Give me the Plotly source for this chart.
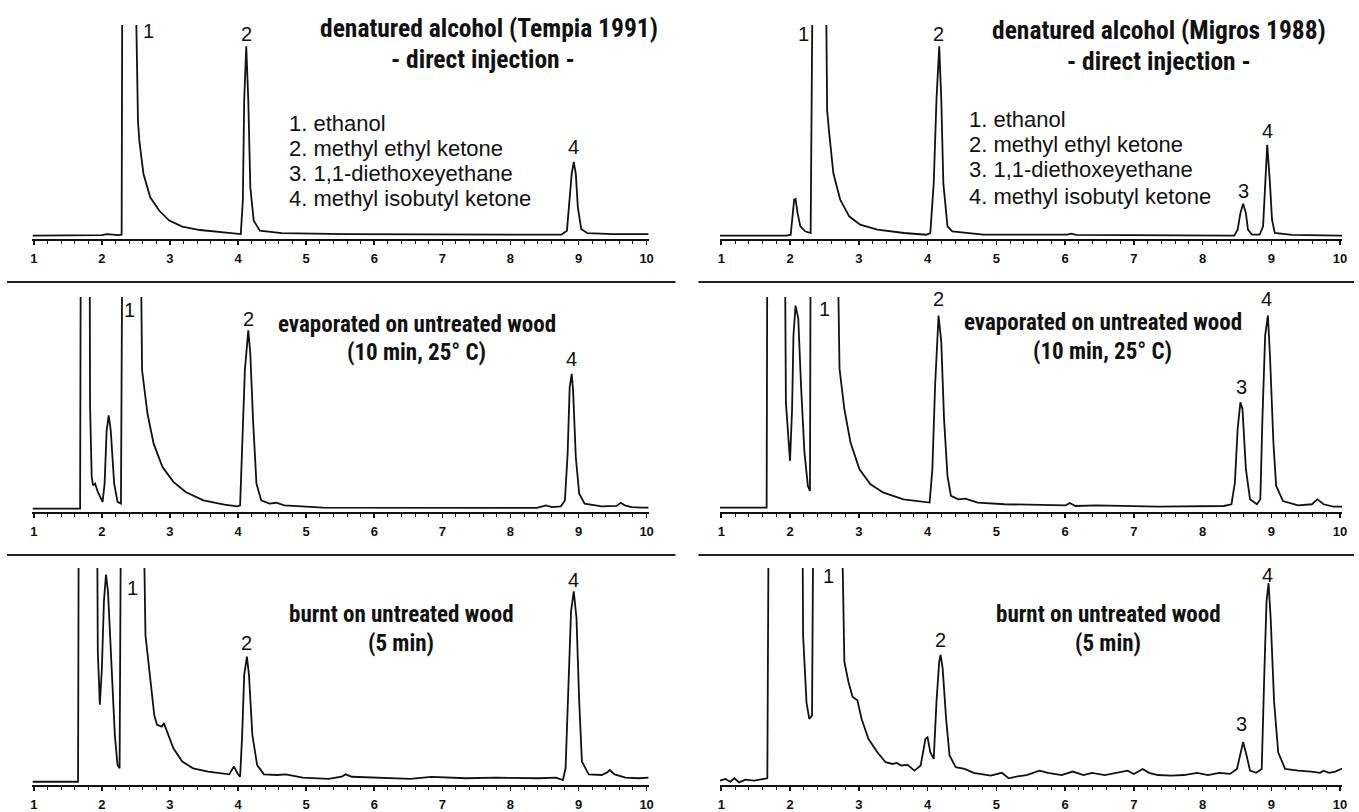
import plotly.graph_objects as go

# ---------------- data (retention time in min, detector signal in % of panel height) -------------
tick_vals = [1, 2, 3, 4, 5, 6, 7, 8, 9, 10]
tick_text = ["1", "2", "3", "4", "5", "6", "7", "8", "9", "10"]

# top-left: Tempia 1991, direct injection
tl_t = [0.98, 1.5, 1.9, 2.0, 2.07, 2.15, 2.25, 2.29, 2.30, 2.49, 2.53, 2.55, 2.61, 2.71, 2.84, 2.99, 3.18,
        3.44, 3.82, 4.0, 4.04, 4.07, 4.09, 4.12, 4.15, 4.18, 4.23, 4.32, 4.64, 5.59, 6.85, 8.12, 8.75, 8.83,
        8.87, 8.90, 8.93, 8.96, 8.99, 9.04, 9.13, 9.51, 10.0, 10.03]
tl_v = [1.6, 1.6, 1.5, 1.8, 2.3, 2.0, 1.8, 2.0, 130, 130, 55, 46, 30.5, 19.5, 13.3, 8.6, 5.8,
        4.2, 3.1, 2.7, 2.3, 18, 65, 90, 65, 24, 8.6, 3.9, 2.7, 2.3, 2.2, 2.0, 2.0, 3.9,
        18, 30.5, 36, 30.5, 14.8, 4.7, 2.7, 2.3, 2.3, 2.3]

# top-right: Migros 1988, direct injection
tr_t = [0.98, 1.5, 1.95, 2.01, 2.03, 2.06, 2.08, 2.11, 2.15, 2.22, 2.30, 2.33, 2.52, 2.54, 2.57, 2.63, 2.73,
        2.86, 3.02, 3.27, 3.66, 3.98, 4.04, 4.09, 4.13, 4.17, 4.20, 4.23, 4.29, 4.36, 4.81, 6.03, 6.09, 6.16,
        8.46, 8.51, 8.55, 8.59, 8.63, 8.66, 8.72, 8.83, 8.88, 8.91, 8.94, 8.98, 9.01, 9.05, 9.3, 10.0, 10.03]
tr_v = [1.6, 1.7, 1.6, 2.0, 9, 18.4, 18.7, 12.1, 5.9, 3.6, 2.8, 130, 130, 60, 49.5, 30.8, 18.4,
        10.6, 6.7, 4.4, 2.8, 2.0, 2.8, 26, 65, 90, 65, 26, 5.9, 3.6, 2.0, 2.0, 2.5, 1.9,
        1.6, 4.4, 12.1, 16.5, 12.1, 4.4, 2.0, 2.0, 5.9, 26, 44, 26, 9, 2.8, 1.9, 1.6, 1.6]

# middle-left: Tempia, evaporated on untreated wood
ml_t = [0.98, 1.68, 1.69, 1.82, 1.826, 1.85, 1.87, 1.90, 1.94, 2.01, 2.04, 2.07, 2.10, 2.13, 2.18, 2.23, 2.28,
        2.30, 2.57, 2.59, 2.67, 2.76, 2.89, 3.05, 3.23, 3.49, 3.80, 3.99, 4.03, 4.06, 4.10, 4.15, 4.18, 4.22,
        4.27, 4.34, 4.46, 4.56, 4.68, 5.25, 6.82, 8.39, 8.52, 8.61, 8.74, 8.80, 8.84, 8.87, 8.90, 8.92, 8.96,
        9.01, 9.09, 9.34, 9.56, 9.62, 9.68, 9.78, 9.94, 10.03]
ml_v = [1.55, 1.55, 130, 130, 50, 16.3, 12.4, 13.2, 9.3, 4.7, 13.2, 38, 45, 38, 13.2, 4.7, 3.9,
        130, 130, 66, 45.7, 31.8, 20.9, 14, 9.3, 5.4, 3.4, 2.6, 3.1, 27, 66, 84.5, 73.6, 42.6,
        13.2, 5.4, 3.9, 4.3, 3.1, 2.0, 1.9, 1.9, 3.1, 2.3, 2.6, 5.4, 27, 58, 64.3, 56.6, 25.6,
        8.5, 3.9, 2.6, 2.8, 4.3, 3.1, 2.3, 2.0, 2.0]

# middle-right: Migros, evaporated on untreated wood
mr_t = [0.98, 1.66, 1.67, 1.925, 1.94, 1.98, 2.00, 2.03, 2.05, 2.08, 2.12, 2.16, 2.21, 2.26, 2.29, 2.30, 2.69,
        2.72, 2.79, 2.88, 3.01, 3.17, 3.36, 3.65, 4.00, 4.03, 4.07, 4.11, 4.16, 4.20, 4.24, 4.29, 4.34, 4.45,
        4.55, 4.73, 5.12, 6.01, 6.07, 6.15, 6.46, 7.35, 8.31, 8.42, 8.47, 8.51, 8.55, 8.58, 8.63, 8.69, 8.79,
        8.84, 8.87, 8.91, 8.95, 8.98, 9.03, 9.07, 9.17, 9.39, 9.59, 9.67, 9.76, 9.90, 10.03]
mr_v = [2.0, 2.0, 130, 130, 51, 29.2, 23.8, 47.9, 82, 96, 90, 58.8, 27.7, 12.1, 9.8, 130, 130,
        66.6, 47.9, 32.3, 19.9, 12.9, 9, 5.9, 4.4, 4.4, 19.9, 58.8, 91.4, 79, 43.2, 16.8, 7.5, 5.9,
        6.2, 4.4, 3.6, 3.1, 4.2, 2.8, 3.1, 2.5, 2.8, 3.6, 13.7, 38.6, 51, 47.9, 19.9, 5.9, 3.6,
        5.9, 43.2, 82, 91.4, 72.8, 32.3, 12.1, 5.1, 3.1, 3.6, 5.9, 3.6, 2.5, 2.5]

# bottom-left: Tempia, burnt on untreated wood
bl_t = [0.98, 1.65, 1.66, 1.93, 1.935, 1.94, 1.97, 2.00, 2.03, 2.06, 2.09, 2.14, 2.19, 2.23, 2.26, 2.28, 2.61,
        2.64, 2.71, 2.77, 2.81, 2.88, 2.91, 2.96, 3.05, 3.18, 3.34, 3.56, 3.75, 3.87, 3.94, 3.99, 4.03, 4.06,
        4.09, 4.13, 4.16, 4.21, 4.28, 4.38, 4.57, 4.70, 4.95, 5.33, 5.52, 5.58, 5.67, 6.02, 6.53, 6.84, 7.35,
        7.79, 8.42, 8.67, 8.77, 8.81, 8.85, 8.89, 8.93, 8.97, 9.01, 9.05, 9.15, 9.34, 9.42, 9.46, 9.53, 9.69,
        9.88, 10.03]
bl_v = [1.5, 1.5, 130, 130, 91.5, 61.5, 37, 53.8, 84.6, 97, 89, 53.8, 23, 9.2, 7.7, 130, 130,
        69, 49, 32, 27.7, 26.9, 28.5, 24.6, 16.9, 10.8, 7.7, 6.2, 5.4, 4.9, 8.5, 5.4, 3.8, 23,
        50.8, 59.2, 50.8, 23, 9.2, 4.9, 4.6, 4.9, 3.4, 2.8, 3.8, 4.9, 3.8, 3.4, 2.8, 3.7, 3.1,
        3.4, 3.1, 3.4, 2.3, 7.7, 46, 80, 89.2, 77, 38.5, 10.8, 4.9, 4.6, 5.8, 6.9, 4.9, 3.4,
        3.1, 3.4]

# bottom-right: Migros, burnt on untreated wood
br_t = [0.98, 1.06, 1.13, 1.19, 1.26, 1.35, 1.48, 1.61, 1.67, 1.69, 2.18, 2.19, 2.24, 2.28, 2.32, 2.34, 2.75,
        2.79, 2.85, 2.91, 2.98, 3.04, 3.14, 3.27, 3.39, 3.49, 3.55, 3.62, 3.71, 3.81, 3.90, 3.97, 4.00, 4.04,
        4.09, 4.13, 4.17, 4.19, 4.22, 4.27, 4.32, 4.41, 4.54, 4.67, 4.80, 4.92, 5.08, 5.18, 5.31, 5.44, 5.63,
        5.75, 5.95, 6.11, 6.27, 6.39, 6.58, 6.78, 6.91, 7.00, 7.13, 7.22, 7.35, 7.54, 7.73, 7.92, 8.08, 8.24,
        8.40, 8.50, 8.55, 8.59, 8.64, 8.69, 8.78, 8.86, 8.90, 8.93, 8.96, 8.99, 9.04, 9.10, 9.20, 9.39, 9.58,
        9.71, 9.76, 9.84, 9.93, 10.0, 10.03]
br_v = [2.0, 2.8, 1.5, 3.1, 1.2, 2.5, 2.0, 2.8, 3.1, 130, 130, 69, 38, 30.5, 32, 130, 130,
        56.8, 47.5, 40.6, 39, 30.5, 21.3, 15.1, 10.5, 9.7, 10.2, 9, 9.3, 6.6, 9, 21.3, 22, 15.1,
        12, 38.3, 56.8, 60, 53.7, 30.5, 13.6, 8.2, 7.4, 5.6, 5.1, 4.3, 5.6, 3.1, 4.0, 4.6, 6.6,
        5.6, 4.6, 6.2, 4.6, 5.6, 4.6, 5.6, 6.6, 5.1, 7.4, 5.6, 4.6, 4.3, 4.6, 5.6, 4.6, 5.6,
        5.1, 7.4, 15.1, 19.8, 13.6, 6.6, 5.6, 7.4, 53.7, 84.6, 93, 76.9, 38.3, 15.1, 7.4, 6.6, 6.2,
        5.6, 6.6, 5.6, 6.2, 7.4, 7.6]

compounds = ["1. ethanol", "2. methyl ethyl ketone", "3. 1,1-diethoxeyethane", "4. methyl isobutyl ketone"]
titles = ["denatured alcohol (Tempia 1991)", "denatured alcohol (Migros 1988)"]
subtitle_direct = "- direct injection -"
evap_lines = ["evaporated on untreated wood", "(10 min, 25° C)"]
burnt_lines = ["burnt on untreated wood", "(5 min)"]

# ---------------- layout geometry ----------------
W, H = 1359, 812


def pxx(p):
    return p / W


def pxy(p):
    return 1 - p / H


col_dom = [[pxx(30.6), pxx(650.0)], [pxx(721.6), pxx(1347.1)]]
row_dom = [[pxy(239), pxy(25)], [pxy(512), pxy(297)], [pxy(785), pxy(568)]]

panels = [
    (tl_t, tl_v, 0, 0), (tr_t, tr_v, 0, 1),
    (ml_t, ml_v, 1, 0), (mr_t, mr_v, 1, 1),
    (bl_t, bl_v, 2, 0), (br_t, br_v, 2, 1),
]

COND = "Roboto Condensed, Liberation Sans Narrow, Arial Narrow, Liberation Sans, sans-serif"
NUM_FONT = dict(family="Liberation Sans, Arial, sans-serif", size=20, color="#111")
LEG_FONT = dict(family="Liberation Sans, Arial, sans-serif", size=22, color="#111")
TITLE_FONT = dict(family=COND, size=25.5, color="#111", weight="bold")
SUB_FONT = dict(family=COND, size=23, color="#111", weight="bold")

fig = go.Figure()
layout = dict(width=W, height=H, margin=dict(l=0, r=0, t=0, b=0),
              paper_bgcolor="white", plot_bgcolor="white", showlegend=False)

for i, (t, v, r, c) in enumerate(panels):
    k = "" if i == 0 else str(i + 1)
    fig.add_trace(go.Scatter(x=t, y=v, mode="lines", line=dict(color="#111", width=1.8),
                             xaxis="x" + k, yaxis="y" + k, hoverinfo="skip"))
    layout["xaxis" + k] = dict(domain=col_dom[c], anchor="y" + k, range=[0.98, 10.03],
                               showline=True, linecolor="#111", linewidth=1.6,
                               ticks="outside", ticklen=4, tickwidth=1.6, tickcolor="#111",
                               tickvals=tick_vals, ticktext=tick_text, ticklabelstandoff=3,
                               tickfont=dict(family="Liberation Sans, Arial, sans-serif", size=13,
                                             color="#111", weight="bold"),
                               minor=dict(dtick=0.2, ticks="outside", ticklen=3, tickwidth=1,
                                          tickcolor="#111"),
                               showgrid=False, zeroline=False, fixedrange=True)
    layout["yaxis" + k] = dict(domain=row_dom[r], anchor="x" + k, range=[0, 100], visible=False,
                               fixedrange=True)

annots = []


def add(text, t, v, panel, font, xanchor="center"):
    k = "" if panel == 0 else str(panel + 1)
    annots.append(dict(text=text, x=t, y=v, xref="x" + k, yref="y" + k, showarrow=False,
                       font=font, xanchor=xanchor, yanchor="middle", borderpad=0))


# top-left
add("1", 2.68, 97, 0, NUM_FONT)
add("2", 4.12, 96, 0, NUM_FONT)
add("4", 8.93, 43, 0, NUM_FONT)
add(titles[0], 7.69, 98.5, 0, TITLE_FONT)
add(subtitle_direct, 7.6, 84.2, 0, TITLE_FONT)
for name, vv in zip(compounds, [54.2, 42.5, 30.8, 18.7]):
    add(name, 4.73, vv, 0, LEG_FONT, xanchor="left")
# top-right
add("1", 2.19, 96, 1, NUM_FONT)
add("2", 4.16, 96, 1, NUM_FONT)
add("3", 8.59, 22.2, 1, NUM_FONT)
add("4", 8.94, 50.7, 1, NUM_FONT)
add(titles[1], 7.36, 97.5, 1, TITLE_FONT)
add(subtitle_direct, 7.37, 83.2, 1, TITLE_FONT)
for name, vv in zip(compounds, [55.7, 44.0, 32.3, 19.9]):
    add(name, 4.59, vv, 1, LEG_FONT, xanchor="left")
# middle-left
add("1", 2.40, 93.8, 2, NUM_FONT)
add("2", 4.15, 90, 2, NUM_FONT)
add("4", 8.89, 71.3, 2, NUM_FONT)
add(evap_lines[0], 6.63, 87.4, 2, SUB_FONT)
add(evap_lines[1], 6.62, 74.0, 2, SUB_FONT)
# middle-right
add("1", 2.50, 94.6, 3, NUM_FONT)
add("2", 4.16, 99, 3, NUM_FONT)
add("3", 8.56, 58, 3, NUM_FONT)
add("4", 8.93, 99, 3, NUM_FONT)
add(evap_lines[0], 6.55, 88.2, 3, SUB_FONT)
add(evap_lines[1], 6.55, 74.8, 3, SUB_FONT)
# bottom-left
add("1", 2.45, 90.8, 4, NUM_FONT)
add("2", 4.13, 65.4, 4, NUM_FONT)
add("4", 8.92, 94.6, 4, NUM_FONT)
add(burnt_lines[0], 6.40, 78.4, 4, SUB_FONT)
add(burnt_lines[1], 6.40, 65.0, 4, SUB_FONT)
# bottom-right
add("1", 2.56, 96.1, 5, NUM_FONT)
add("2", 4.19, 66.8, 5, NUM_FONT)
add("3", 8.57, 28.2, 5, NUM_FONT)
add("4", 8.95, 97, 5, NUM_FONT)
add(burnt_lines[0], 6.63, 78.4, 5, SUB_FONT)
add(burnt_lines[1], 6.63, 65.0, 5, SUB_FONT)

layout["annotations"] = annots

# separator rules between the stacked chromatograms
shapes = []
for ypx in (282, 555):
    for x0, x1 in ((5, 677), (700, 1359)):
        shapes.append(dict(type="line", xref="paper", yref="paper", x0=pxx(x0), x1=pxx(x1),
                           y0=pxy(ypx), y1=pxy(ypx), line=dict(color="#222", width=2.2)))
layout["shapes"] = shapes

fig.update_layout(**layout)
fig.write_html("out.html", config={"displayModeBar": False, "staticPlot": True},
               post_script="document.body.style.margin='0px';"
                           "document.documentElement.style.overflow='hidden';")
